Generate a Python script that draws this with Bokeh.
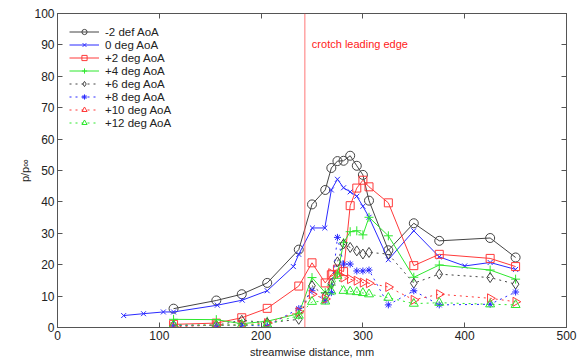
import numpy as np
from bokeh.plotting import figure
from bokeh.models import Span, Label, LinearAxis, Legend, FixedTicker, Title
from bokeh.embed import file_html
from bokeh.resources import INLINE

# ---- data ----
x_common = [114, 156, 181, 206, 237, 250, 263, 269, 275, 281, 287.5, 294, 300, 306, 325, 350, 375, 425, 450]
x_0deg = [65, 84.5, 104, 114, 157, 181.5, 206, 231.7, 237, 250.4, 262.6, 269, 275, 281, 287.5, 294, 300, 306, 325, 350, 375, 400, 425, 450]

y_m2 = [6.0, 8.6, 10.6, 14.2, 24.8, 39.2, 43.8, 50.8, 53.0, 53.1, 54.7, 51.5, 48.6, 40.4, 24.6, 33.2, 27.6, 28.5, 22.3]
y_0 = [3.8, 4.4, 4.95, 4.95, 7.1, 8.7, 11.7, 19.4, 23.3, 31.7, 31.7, 43.8, 47.2, 44.5, 43.2, 41.8, 38.6, 35.1, 21.6, 30.8, 22.5, 19.6, 20.7, 18.5]
y_p2 = [1.0, 1.4, 3.1, 6.1, 13.2, 20.6, 14.2, 16.8, 18.6, 17.8, 38.8, 44.4, 46.9, 44.8, 39.7, 19.7, 23.3, 22.0, 19.4]
y_p4 = [2.6, 2.5, 1.2, 2.0, 4.4, 15.9, 11.1, 13.5, 17.0, 27.0, 30.5, 30.8, 29.5, 35.1, 29.2, 16.0, 19.9, 18.3, 15.4]
y_p6 = [0.7, 0.7, 2.3, 1.5, 2.6, 13.3, 10.0, 14.0, 20.9, 26.6, 25.5, 24.4, 23.4, 23.9, 23.4, 14.1, 17.0, 15.9, 13.8]
y_p8 = [0.7, 0.7, 0.7, 0.5, 6.0, 11.7, 8.5, 11.1, 28.7, 20.2, 20.2, 18.0, 18.0, 18.3, 7.2, 11.7, 7.2, 7.4, 11.3]
y_p10 = [0.2, 0.8, 0.8, 1.4, 5.0, 10.6, 9.1, 17.3, 16.9, 15.9, 15.4, 14.9, 14.3, 14.1, 12.9, 8.8, 10.6, 9.3, 8.2]
y_p12 = [0.8, 0.8, 0.8, 1.0, 3.8, 8.2, 8.3, 11.5, 16.5, 11.7, 11.5, 11.3, 11.0, 10.6, 9.5, 7.6, 7.9, 7.4, 7.2]

labels = ["-2 def AoA", "0 deg AoA", "+2 deg AoA", "+4 deg AoA",
          "+6 deg AoA", "+8 deg AoA", "+10 deg AoA", "+12 deg AoA"]
crotch_x = 243
crotch_text = "crotch leading edge"
x_ticks = [0, 100, 200, 300, 400, 500]
y_ticks = [0, 10, 20, 30, 40, 50, 60, 70, 80, 90, 100]

FONT = "Liberation Sans"
AX = "#555555"

p = figure(width=579, height=361, x_range=(0, 500), y_range=(0, 100),
           output_backend="svg", toolbar_location=None,
           min_border_left=57, min_border_right=13, min_border_top=13, min_border_bottom=34)
p.xgrid.visible = False
p.ygrid.visible = False
p.outline_line_color = AX
p.outline_line_width = 1

for ax in (p.xaxis[0], p.yaxis[0]):
    ax.axis_line_color = AX
    ax.major_tick_line_color = AX
    ax.major_tick_in = 5
    ax.major_tick_out = 0
    ax.minor_tick_line_color = None
    ax.major_label_text_font = FONT
    ax.major_label_text_font_size = "12px"
    ax.major_label_text_color = "#222222"
    ax.axis_label_text_font = FONT
    ax.axis_label_text_font_style = "normal"
    ax.axis_label_text_font_size = "11px"
    ax.axis_label_text_color = "#222222"
    ax.major_label_standoff = 3
    ax.axis_label_standoff = 3
p.xaxis[0].ticker = FixedTicker(ticks=x_ticks)
p.yaxis[0].ticker = FixedTicker(ticks=y_ticks)
p.xaxis[0].axis_label = "streamwise distance, mm"

# y-axis title as a side title (vertical text left of the tick labels)
p.add_layout(Title(text="p/p\u221e", align="center", text_font=FONT,
                   text_font_size="11px", text_font_style="normal",
                   text_color="#222222", standoff=2), "left")

for loc, tks in (("above", x_ticks), ("right", y_ticks)):
    ax = LinearAxis(ticker=FixedTicker(ticks=tks), major_label_text_color=None,
                    major_label_text_font_size="1px", major_label_standoff=0,
                    major_tick_in=5, major_tick_out=0, minor_tick_line_color=None,
                    axis_line_color=AX, major_tick_line_color=AX)
    p.add_layout(ax, loc)

p.add_layout(Span(location=crotch_x, dimension="height", line_color="#ff5555",
                  line_width=1, line_alpha=0.8))
p.add_layout(Label(x=crotch_x, y=90.2, x_offset=7, text=crotch_text,
                   text_color="#ff2020", text_font=FONT, text_font_size="11px",
                   text_baseline="middle"))

BLK = "#444444"
BLU = "#2a2aff"
RED = "#ff3a3a"
GRN = "#2ee82e"

series = [
    (x_common, y_m2, BLK, "solid", "circle", 9, 0),
    (x_0deg, y_0, BLU, "solid", "x", 7, 0),
    (x_common, y_p2, RED, "solid", "square", 8, 0),
    (x_common, y_p4, GRN, "solid", "cross", 9, 0),
    (x_common, y_p6, BLK, "dotted", "diamond", 10, 0),
    (x_common, y_p8, BLU, "dotted", "asterisk", 7, 0),
    (x_common, y_p10, RED, "dotted", "triangle", 9, -np.pi / 2),
    (x_common, y_p12, GRN, "dotted", "triangle", 9, 0),
]

items = []
for (xs, ys, col, dash, mk, sz, ang), lab in zip(series, labels):
    r1 = p.line(xs, ys, line_color=col, line_width=1, line_dash=dash)
    r2 = p.scatter(xs, ys, marker=mk, size=sz, angle=ang, line_color=col,
                   fill_alpha=0, line_width=1)
    items.append((lab, [r1, r2]))

legend = Legend(items=items, location=(12, 198))
legend.label_text_font = FONT
legend.label_text_font_size = "11.5px"
legend.label_text_line_height = 1.0
legend.label_text_color = "#222222"
legend.glyph_width = 30
legend.glyph_height = 13
legend.label_height = 13
legend.spacing = 0
legend.padding = 3
legend.label_standoff = 6
legend.border_line_color = None
legend.background_fill_alpha = 0
p.add_layout(legend, "center")

open("out.html", "w").write(file_html(p, INLINE))
